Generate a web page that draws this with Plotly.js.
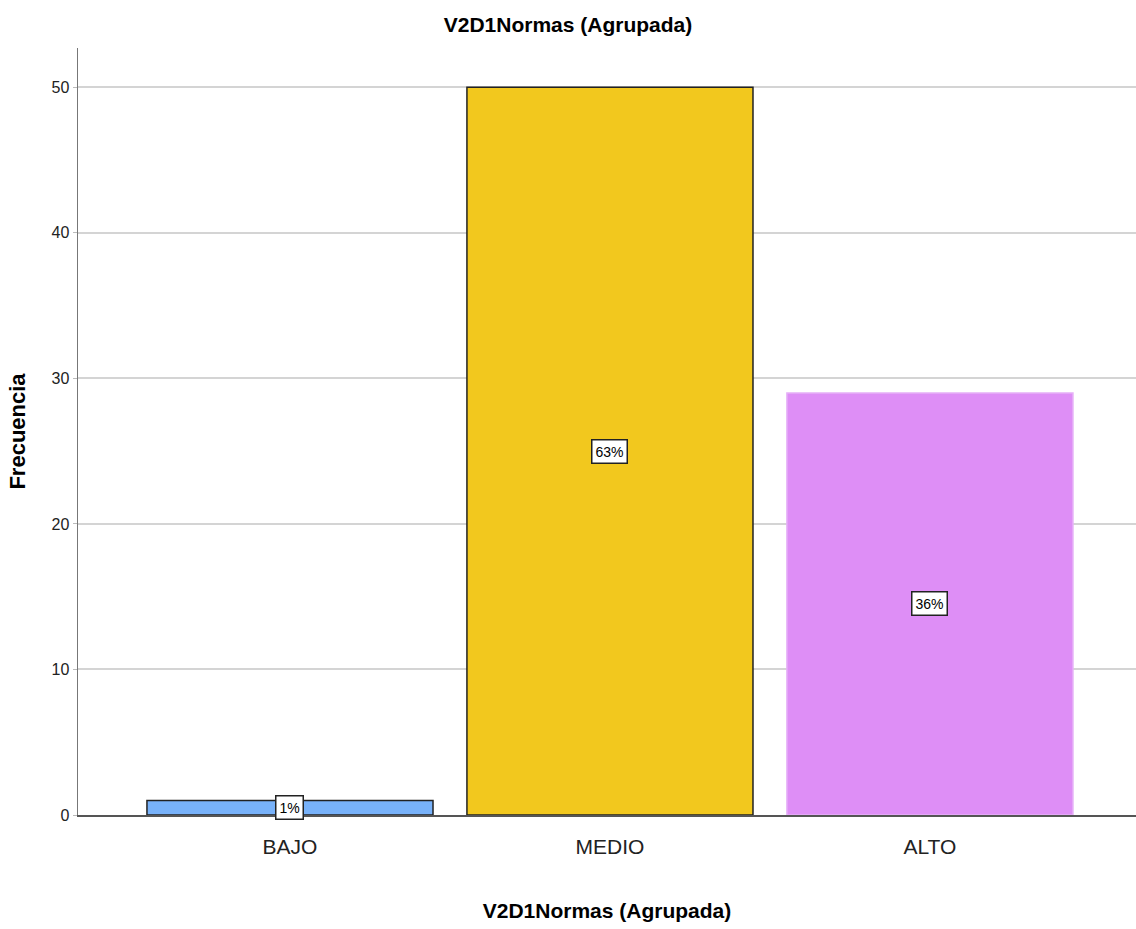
<!DOCTYPE html>
<html><head><meta charset="utf-8">
<script src="https://cdn.plot.ly/plotly-3.0.1.min.js"></script>
<style>html,body{margin:0;padding:0;background:#fff}#chart{width:1136px;height:929px}</style>
</head><body><div id="chart"></div>
<script>
var categories = ["BAJO", "MEDIO", "ALTO"];
var frequencies = [1, 50, 29];
var percentLabels = ["1%", "63%", "36%"];
var barColors = ["#78b2fa", "#f2c81e", "#de8ef6"];
var barLineColors = ["#222222", "#222222", "#e6b0f8"];
var yTicks = [0, 10, 20, 30, 40, 50];

var narrow = "Liberation Sans Narrow, Arial Narrow, Arial, sans-serif";

var trace = {
  type: "bar",
  x: categories,
  y: frequencies,
  width: 0.894,
  marker: {color: barColors, line: {color: barLineColors, width: 1.5}},
  hoverinfo: "none"
};

var annotations = categories.map(function(c, i){
  return {
    x: c, y: frequencies[i] / 2, xref: "x", yref: "y",
    text: percentLabels[i], showarrow: false,
    font: {family: narrow, size: 14, color: "#000"},
    bgcolor: "#ffffff", bordercolor: "#222", borderwidth: 1.5, borderpad: 3
  };
});

var layout = {
  width: 1136, height: 929,
  margin: {l: 78, r: 0, t: 48, b: 114},
  paper_bgcolor: "#fff", plot_bgcolor: "#fff",
  showlegend: false,
  title: {text: "V2D1Normas (Agrupada)", x: 0.5, xanchor: "center", y: 0.973, yanchor: "middle",
          font: {family: narrow, size: 21, color: "#000", weight: "bold"}},
  xaxis: {
    range: [-0.6625, 2.644], type: "category",
    showline: true, linecolor: "#555", linewidth: 1.5,
    ticks: "", showgrid: false, ticklabelstandoff: 12,
    tickfont: {family: narrow, size: 21, color: "#222"},
    title: {text: "V2D1Normas (Agrupada)", standoff: 46,
            font: {family: narrow, size: 21, color: "#000", weight: "bold"}}
  },
  yaxis: {
    range: [0, 52.7], tickvals: yTicks,
    showline: true, linecolor: "#777", linewidth: 1.5,
    ticks: "outside", ticklen: 4, tickcolor: "#bbb",
    showgrid: true, gridcolor: "#d4d4d4", gridwidth: 2,
    zeroline: false,
    tickfont: {family: narrow, size: 16, color: "#222"},
    title: {text: "Frecuencia", standoff: 20,
            font: {family: "Liberation Sans, Arial, sans-serif", size: 22, color: "#000", weight: "bold"}}
  },
  annotations: annotations
};

Plotly.newPlot("chart", [trace], layout, {displayModeBar: false, staticPlot: true});
</script></body></html>
